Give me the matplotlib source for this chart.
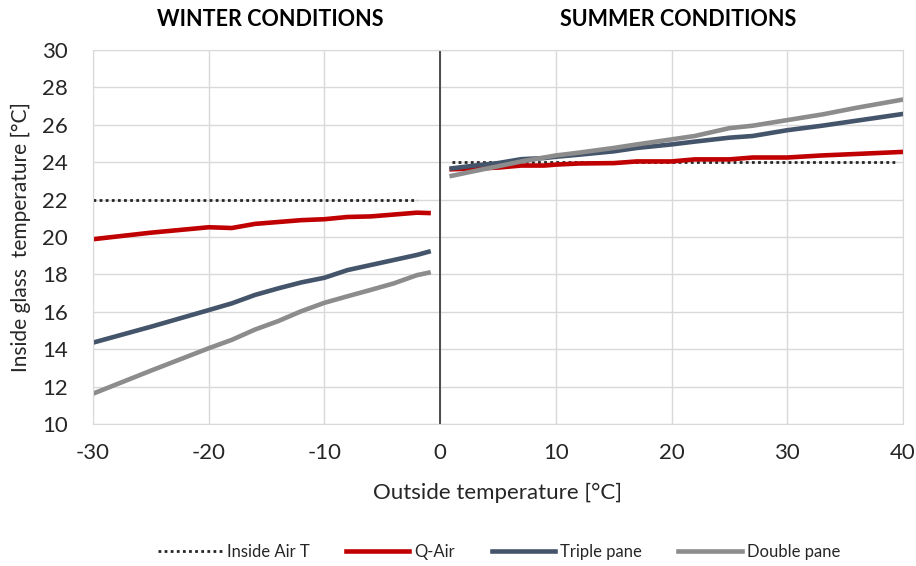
import matplotlib.pyplot as plt

plt.rcParams['font.family'] = ['Lato', 'DejaVu Sans']
plt.rcParams['axes.unicode_minus'] = False

# Winter side (outside temperature below zero)
winter_x = [-30, -25, -20, -18, -16, -14, -12, -10, -8, -6, -4, -2, -1]
winter_qair = [19.88, 20.23, 20.52, 20.48, 20.7, 20.8, 20.9, 20.95, 21.07, 21.1, 21.2, 21.3, 21.28]
winter_triple = [14.35, 15.2, 16.09, 16.45, 16.9, 17.25, 17.57, 17.82, 18.23, 18.5, 18.77, 19.04, 19.21]
winter_double = [11.62, 12.85, 14.05, 14.5, 15.05, 15.5, 16.03, 16.48, 16.83, 17.17, 17.52, 17.96, 18.09]
winter_air_x = [-30, -2]
winter_air = [22, 22]

# Summer side
summer_x = [1, 3, 5, 7, 9, 10, 12, 15, 17, 20, 22, 25, 27, 30, 33, 36, 40]
summer_qair = [23.62, 23.66, 23.71, 23.82, 23.82, 23.87, 23.93, 23.95, 24.04, 24.04, 24.15, 24.15, 24.25,
               24.25, 24.36, 24.44, 24.55]
summer_triple = [23.67, 23.82, 23.95, 24.16, 24.22, 24.29, 24.4, 24.58, 24.76, 24.95, 25.1, 25.31, 25.4,
                 25.71, 25.95, 26.22, 26.58]
summer_double = [23.27, 23.53, 23.78, 24.04, 24.25, 24.36, 24.51, 24.76, 24.95, 25.22, 25.4, 25.82, 25.95,
                 26.25, 26.55, 26.91, 27.35]
summer_air_x = [1, 39.5]
summer_air = [24, 24]

x_ticks = [-30, -20, -10, 0, 10, 20, 30, 40]
y_ticks = [10, 12, 14, 16, 18, 20, 22, 24, 26, 28, 30]

c_red = '#C00000'
c_triple = '#44546A'
c_double = '#8C8C8C'
c_text = '#262626'

fig = plt.figure(figsize=(9.16, 5.66), dpi=100)
ax = fig.add_axes([0.1015, 0.2509, 0.8843, 0.6608])

lw = 3.3
ax.plot(winter_air_x, winter_air, color='#262626', lw=2, ls=(0, (1, 1.2)), label='Inside Air T')
ax.plot(summer_air_x, summer_air, color='#262626', lw=2, ls=(0, (1, 1.2)))
ax.plot(winter_x, winter_qair, color=c_red, lw=lw, label='Q-Air')
ax.plot(summer_x, summer_qair, color=c_red, lw=lw)
ax.plot(winter_x, winter_triple, color=c_triple, lw=lw, label='Triple pane')
ax.plot(summer_x, summer_triple, color=c_triple, lw=lw)
ax.plot(winter_x, winter_double, color=c_double, lw=lw, label='Double pane')
ax.plot(summer_x, summer_double, color=c_double, lw=lw)

# vertical divider at 0
ax.axvline(0, color='#404040', lw=1.3, zorder=1)

ax.set_xlim(-30, 40)
ax.set_ylim(10, 30)
ax.set_xticks(x_ticks)
ax.set_yticks(y_ticks)
ax.grid(True, color='#d9d9d9', lw=1)
ax.set_axisbelow(True)
for s in ax.spines.values():
    s.set_color('#d9d9d9')
ax.tick_params(length=0, labelsize=16, colors=c_text)
ax.tick_params(axis='x', pad=14)
ax.tick_params(axis='y', pad=18)

ax.set_xlabel('Outside temperature [°C]', fontsize=16, color=c_text, labelpad=14)
ax.set_ylabel('Inside glass  temperature [°C]', fontsize=15, color=c_text, labelpad=8)

fig.text(270 / 916, 1 - 20 / 566, 'WINTER CONDITIONS', fontsize=15.5, fontweight='bold',
         color='black', ha='center', va='center')
fig.text(678 / 916, 1 - 20 / 566, 'SUMMER CONDITIONS', fontsize=15.5, fontweight='bold',
         color='black', ha='center', va='center')

fig.legend(loc='center', bbox_to_anchor=(0.545, 1 - 552 / 566), ncol=4, frameon=False,
           fontsize=12, handlelength=3.8, columnspacing=2.2, handletextpad=0.3,
           labelcolor=c_text)

fig.savefig('out.png', dpi=100)
